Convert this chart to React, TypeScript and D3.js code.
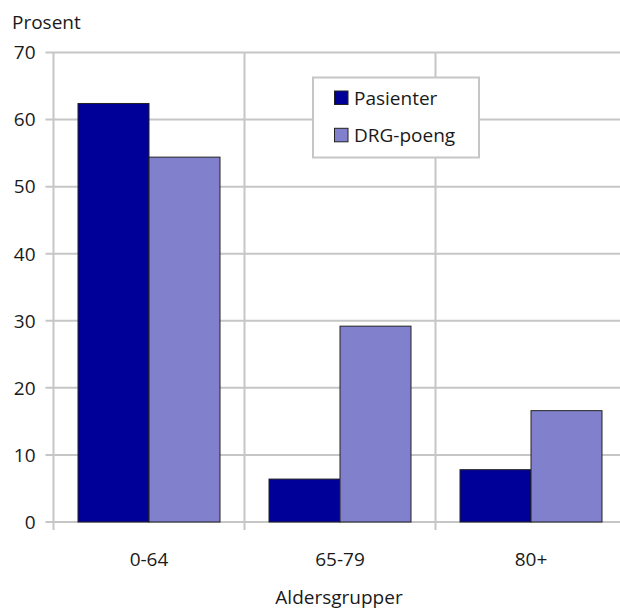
import React from "react";
import * as d3 from "d3";

const categories = ["0-64", "65-79", "80+"];
const seriesNames = ["Pasienter", "DRG-poeng"];
const pasienter = [62.4, 6.4, 7.8];
const drgPoeng = [54.4, 29.2, 16.6];
const yTicks = [0, 10, 20, 30, 40, 50, 60, 70];
const colors = ["#000099", "#8080cc"];

const W = 620;
const H = 610;
const FONT = "'Open Sans', 'Noto Sans', sans-serif";
const FS = 19;

export default function App() {
  const left = 53.5;
  const right = 626.5;
  const top = 52.5;
  const bottom = 522;

  const x = d3.scaleBand<string>().domain(categories).range([left, right]).paddingInner(0).paddingOuter(0);
  const inner = d3.scaleBand<string>().domain(seriesNames).range([0, x.bandwidth()]).paddingOuter(0.345).paddingInner(0);
  const y = d3.scaleLinear().domain([0, 70]).range([bottom, top]);

  const series = [pasienter, drgPoeng];
  const grid = "#c6c6c6";
  const ink = "#1a1a1a";

  return (
    <svg width={W} height={H} style={{ position: "absolute", left: 0, top: 0, background: "#fff" }}>
      {/* horizontal gridlines + y ticks */}
      {yTicks.map((t) => (
        <g key={"y" + t}>
          <line x1={left - 8} x2={right} y1={y(t)} y2={y(t)} stroke={grid} strokeWidth={2} />
          <text x={35.5} y={y(t)} dy="0.36em" textAnchor="end" fontFamily={FONT} fontSize={FS} fill={ink}>
            {t}
          </text>
        </g>
      ))}
      {/* vertical gridlines at category boundaries */}
      {[...categories.map((c) => x(c) as number), right].map((v, i) => (
        <line key={"v" + i} x1={v} x2={v} y1={top} y2={bottom + 8} stroke={grid} strokeWidth={2} />
      ))}
      {/* bars */}
      {categories.map((c, ci) =>
        series.map((s, si) => {
          const x0 = (x(c) as number) + (inner(seriesNames[si]) as number);
          return (
            <rect
              key={c + si}
              x={x0}
              y={y(s[ci])}
              width={inner.bandwidth()}
              height={bottom - y(s[ci])}
              fill={colors[si]}
              stroke="#222"
              strokeWidth={1}
            />
          );
        })
      )}
      {/* category labels */}
      {categories.map((c) => (
        <text
          key={"c" + c}
          x={(x(c) as number) + x.bandwidth() / 2}
          y={566}
          textAnchor="middle"
          fontFamily={FONT}
          fontSize={FS}
          fill={ink}
        >
          {c}
        </text>
      ))}
      <text x={12} y={29} fontFamily={FONT} fontSize={FS} fill={ink}>
        Prosent
      </text>
      <text x={339} y={604} textAnchor="middle" fontFamily={FONT} fontSize={FS} fill={ink}>
        Aldersgrupper
      </text>
      {/* legend */}
      <rect x={313} y={77.5} width={166} height={80} fill="#fff" stroke={grid} strokeWidth={2} />
      {seriesNames.map((n, i) => (
        <g key={"l" + n}>
          <rect x={334.5} y={91 + i * 37.3} width={13.5} height={13.5} fill={colors[i]} stroke="#222" strokeWidth={1} />
          <text x={354} y={105 + i * 37.3} fontFamily={FONT} fontSize={FS} fill={ink}>
            {n}
          </text>
        </g>
      ))}
    </svg>
  );
}
